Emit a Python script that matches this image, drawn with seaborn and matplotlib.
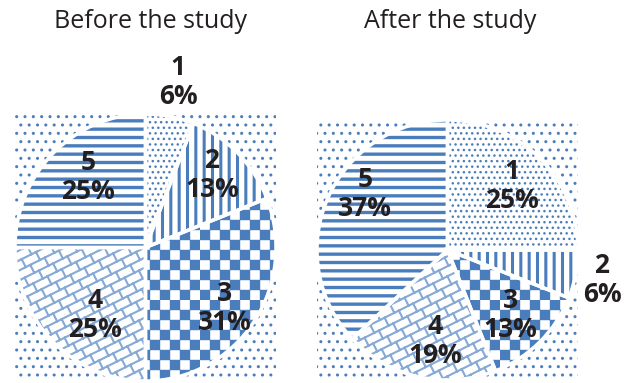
import warnings
import numpy as np
import matplotlib
matplotlib.use("Agg")
import matplotlib.pyplot as plt
import matplotlib.hatch as mhatch
from matplotlib.path import Path
import seaborn as sns

warnings.filterwarnings("ignore")

# ---------------- data ----------------
categories = ["1", "2", "3", "4", "5"]
before_values = [6, 13, 31, 25, 25]
after_values = [25, 6, 13, 19, 37]
titles = ["Before the study", "After the study"]

# ---------------- style ----------------
BLUE = "#4a7dbb"
LIGHT_BLUE = "#86a9d6"
TEXT = "#231f20"

sns.set_theme(style="white")
plt.rcParams["font.family"] = ["Open Sans", "DejaVu Sans"]
plt.rcParams["hatch.color"] = BLUE


# custom hatch patterns: checkerboard ('c') and slanted bricks ('b')
class CheckerHatch(mhatch.HatchPatternBase):
    def __init__(self, hatch, density):
        self.n = 10 if "c" in hatch else 0
        self.squares = [(i, j) for i in range(self.n) for j in range(self.n)
                        if (i + j) % 2 == 0]
        self.num_vertices = len(self.squares) * 5

    def set_vertices_and_codes(self, vertices, codes):
        s = 1.0 / self.n
        k = 0
        for (i, j) in self.squares:
            x0, y0 = i * s, j * s
            vertices[k:k + 5] = [(x0, y0), (x0 + s, y0), (x0 + s, y0 + s),
                                 (x0, y0 + s), (x0, y0)]
            codes[k] = Path.MOVETO
            codes[k + 1:k + 4] = Path.LINETO
            codes[k + 4] = Path.CLOSEPOLY
            k += 5


class BrickHatch(mhatch.HatchPatternBase):
    def __init__(self, hatch, density):
        self.segs = []
        if "b" in hatch:
            m = 10          # line offsets per unit (slope 1/2 lines)
            dc = 1.0 / m
            Lx = 1.0 / 7    # brick length along x
            delta = 2 * Lx / 5
            for k in range(-m - 2, 2 * m + 2):
                c = k * dc
                self.segs.append(((-0.3, -0.15 + c), (1.3, 0.65 + c)))
            for k in range(-m - 2, 2 * m + 2):
                c = k * dc
                for j in range(-3, 12):
                    x0 = j * Lx + (k * delta) % Lx
                    y0 = x0 / 2 + c
                    if -0.3 < x0 < 1.3 and -0.3 < y0 < 1.3:
                        p1 = (x0 - 0.4 * dc, y0 + 0.8 * dc)
                        self.segs.append(((x0, y0), p1))
        self.num_vertices = 2 * len(self.segs)

    def set_vertices_and_codes(self, vertices, codes):
        for i, (p0, p1) in enumerate(self.segs):
            vertices[2 * i] = p0
            vertices[2 * i + 1] = p1
            codes[2 * i] = Path.MOVETO
            codes[2 * i + 1] = Path.LINETO


mhatch._hatch_types.append(CheckerHatch)
mhatch._hatch_types.append(BrickHatch)

hatches = ["...", "||", "c", "b", "--"]
hatch_lw = [1.0, 2.2, 0.3, 1.5, 2.4]
hatch_cols = [BLUE, BLUE, BLUE, LIGHT_BLUE, BLUE]

fig = plt.figure(figsize=(6.35, 3.83), dpi=100)
W, H = 635, 383

axes_px = [(15, 114, 276, 381), (317, 120, 578, 380)]

label_pos = [
    [(178, 82), (212, 175), (225, 308), (95, 315), (88, 177)],
    [(512, 186), (602, 280), (510, 315), (435, 341), (365, 194)],
]
title_pos = [(150, 22), (450, 22)]

for idx, values in enumerate([before_values, after_values]):
    l, t, r, b = axes_px[idx]
    ax = fig.add_axes([l / W, 1 - b / H, (r - l) / W, (b - t) / H])
    ax.patch.set_facecolor("white")
    ax.patch.set_edgecolor(BLUE)
    ax.patch.set_linewidth(0)
    ax.patch.set_hatch("..")

    wedges, _ = ax.pie(values, startangle=90, counterclock=False, radius=1,
                       frame=True,
                       wedgeprops=dict(facecolor="white", edgecolor=BLUE,
                                       linewidth=0))
    for w, h, lw, hc in zip(wedges, hatches, hatch_lw, hatch_cols):
        w.set_edgecolor(hc)
        w.set_linewidth(0)
        w.set_hatch(h)
        if hasattr(w, "set_hatch_linewidth"):
            w.set_hatch_linewidth(lw)
    ax.pie(values, startangle=90, counterclock=False, radius=1, frame=True,
           wedgeprops=dict(fill=False, edgecolor="white", linewidth=2.5))
    ax.set_aspect("auto")
    ax.set_xlim(-1.0, 1.0)
    ax.set_ylim(-1.0, 1.0)
    ax.set_xticks([])
    ax.set_yticks([])
    for s in ax.spines.values():
        s.set_visible(False)

    for (x, y), cat, v in zip(label_pos[idx], categories, values):
        fig.text(x / W, 1 - y / H, f"{cat}\n{v}%", ha="center", va="center",
                 fontsize=19, fontweight="bold", color=TEXT, linespacing=1.05)

    tx, ty = title_pos[idx]
    fig.text(tx / W, 1 - ty / H, titles[idx], ha="center", va="center",
             fontsize=18, color=TEXT)

fig.savefig("out.png", dpi=100)
